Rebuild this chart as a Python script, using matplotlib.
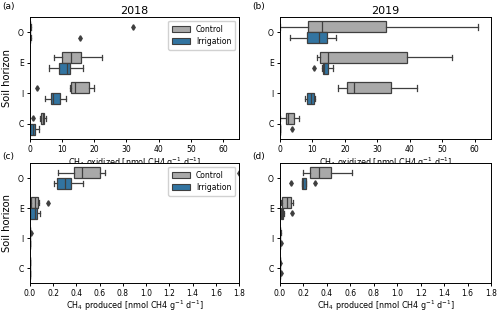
import matplotlib
matplotlib.use("Agg")
import matplotlib.pyplot as plt
from matplotlib.patches import Patch

# --- data: five-number summaries (whislo, q1, med, q3, whishi) per horizon ---
horizons = ["O", "E", "I", "C"]
groups = ["Control", "Irrigation"]

ox2018_control = [(0, 0, 0, 0.1, 0.2), (7.5, 9.8, 12.9, 16.0, 22.5),
                  (12.3, 12.6, 14.0, 18.3, 19.8), (3.2, 3.3, 4.0, 4.4, 4.9)]
ox2018_irrig = [(0, 0, 0.05, 0.1, 0.3), (6.0, 9.1, 11.5, 12.5, 16.5),
                (4.8, 6.5, 7.2, 9.2, 11.3), (0, 0, 0.8, 1.4, 2.8)]
ox2018_control_out = [[32.0], [], [2.1], [1.0]]
ox2018_irrig_out = [[15.5], [], [], []]

ox2019_control = [(0, 8.7, 12.9, 32.5, 61.0), (11.5, 12.3, 14.8, 39.2, 53.0),
                  (18.0, 20.6, 22.8, 34.2, 42.3), (0.1, 1.9, 2.6, 4.2, 6.0)]
ox2019_irrig = [(3.0, 8.2, 12.0, 14.4, 17.3), (13.0, 13.1, 13.6, 14.7, 16.2),
                (7.8, 8.3, 9.6, 10.4, 10.8), (0, 0, 0, 0.05, 0.1)]
ox2019_control_out = [[], [], [], []]
ox2019_irrig_out = [[], [10.5], [], [3.6]]

pr2018_control = [(0.24, 0.38, 0.45, 0.6, 0.65), (0.0, 0.005, 0.04, 0.07, 0.075),
                  (0, 0, 0, 0.001, 0.002), (0, 0, 0, 0.001, 0.002)]
pr2018_irrig = [(0.21, 0.23, 0.30, 0.355, 0.46), (0.0, 0.0, 0.04, 0.06, 0.085),
                (0, 0, 0, 0.001, 0.002), (0, 0, 0, 0.001, 0.002)]
pr2018_control_out = [[1.8], [0.153], [0.005], []]
pr2018_irrig_out = [[], [], [], []]

pr2019_control = [(0.2, 0.258, 0.33, 0.436, 0.617), (0.01, 0.02, 0.057, 0.095, 0.109),
                  (0, 0, 0.002, 0.004, 0.006), (0, 0, 0, 0.001, 0.002)]
pr2019_irrig = [(0.185, 0.187, 0.2, 0.224, 0.226), (0.0, 0.005, 0.015, 0.028, 0.03),
                (0, 0, 0, 0.001, 0.002), (0, 0, 0, 0.001, 0.002)]
pr2019_control_out = [[], [], [], [0.004]]
pr2019_irrig_out = [[0.098, 0.30], [0.1], [0.006], [0.005]]

colors = {"Control": "#a9a9a9", "Irrigation": "#3274a1"}
edge = "#3f3f3f"

plt.rcParams["font.family"] = "DejaVu Sans"

fig = plt.figure(figsize=(5.0, 3.12), dpi=100)
W, H = 500, 312


def add_ax(x0, y0, x1, y1):
    return fig.add_axes([x0 / W, 1 - y1 / H, (x1 - x0) / W, (y1 - y0) / H])


ax_a = add_ax(30, 17, 239, 139)
ax_b = add_ax(280, 17, 491, 139)
ax_c = add_ax(30, 163, 239, 283)
ax_d = add_ax(280, 163, 491, 283)


def make_stats(summ, outs):
    res = []
    for (lo, q1, med, q3, hi), fl in zip(summ, outs):
        res.append(dict(whislo=lo, q1=q1, med=med, q3=q3, whishi=hi, fliers=fl))
    return res


def draw(ax, ctrl, irr, ctrl_out, irr_out, xmax):
    for stats, out, offset, name in [(ctrl, ctrl_out, -0.18, "Control"),
                                     (irr, irr_out, 0.18, "Irrigation")]:
        pos = [i + offset for i in range(len(horizons))]
        ax.bxp(make_stats(stats, out), positions=pos, widths=0.36, vert=False,
               patch_artist=True, manage_ticks=False,
               boxprops=dict(facecolor=colors[name], edgecolor=edge, linewidth=0.9),
               medianprops=dict(color=edge, linewidth=0.9),
               whiskerprops=dict(color=edge, linewidth=0.9),
               capprops=dict(color=edge, linewidth=0.9),
               flierprops=dict(marker="d", markersize=2.8, markerfacecolor=edge,
                               markeredgecolor=edge))
    ax.set_yticks(range(len(horizons)))
    ax.set_yticklabels(horizons)
    ax.set_ylim(len(horizons) - 0.5, -0.5)
    ax.set_xlim(0, xmax)
    ax.tick_params(labelsize=5.5, length=2.5, width=0.7, pad=2)
    for s in ax.spines.values():
        s.set_linewidth(0.7)


draw(ax_a, ox2018_control, ox2018_irrig, ox2018_control_out, ox2018_irrig_out, 65)
draw(ax_b, ox2019_control, ox2019_irrig, ox2019_control_out, ox2019_irrig_out, 65)
draw(ax_c, pr2018_control, pr2018_irrig, pr2018_control_out, pr2018_irrig_out, 1.8)
draw(ax_d, pr2019_control, pr2019_irrig, pr2019_control_out, pr2019_irrig_out, 1.8)

for ax in (ax_a, ax_b):
    ax.set_xticks(range(0, 61, 10))
    ax.set_xlabel("CH$_4$ oxidized [nmol CH4 g$^{-1}$ d$^{-1}$]", fontsize=5.8, labelpad=1)
for ax in (ax_c, ax_d):
    ax.set_xticks([i / 5 for i in range(10)])
    ax.set_xlabel("CH$_4$ produced [nmol CH4 g$^{-1}$ d$^{-1}$]", fontsize=5.8, labelpad=0.5)
for ax in (ax_a, ax_c):
    ax.set_ylabel("Soil horizon", fontsize=7.2, labelpad=4)

ax_a.set_title("2018", fontsize=8, pad=2)
ax_b.set_title("2019", fontsize=8, pad=2)

handles = [Patch(facecolor=colors[g], edgecolor=edge, linewidth=0.8, label=g) for g in groups]
for ax in (ax_a, ax_c):
    ax.legend(handles=handles, loc="upper right", fontsize=5.5, handlelength=2.3,
              borderpad=0.5, labelspacing=0.4, framealpha=0.9)

for lbl, x, y in [("(a)", 2, 7), ("(b)", 252, 7), ("(c)", 2, 156), ("(d)", 252, 156)]:
    fig.text(x / W, 1 - y / H, lbl, fontsize=6.5, va="center", ha="left")

fig.savefig("out.png", dpi=100)
